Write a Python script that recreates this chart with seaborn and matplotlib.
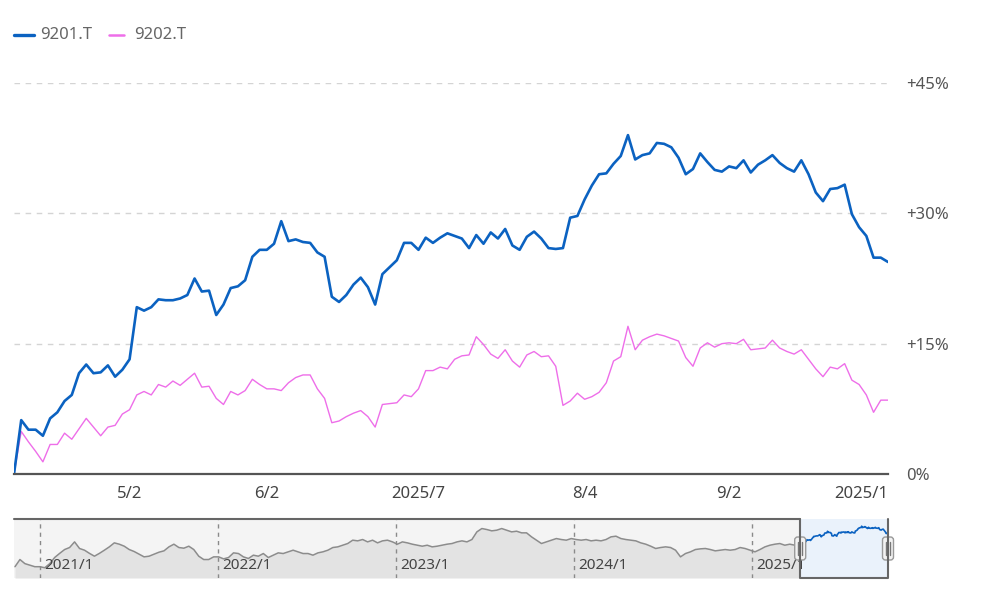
import matplotlib
matplotlib.use('Agg')
import matplotlib.pyplot as plt
from matplotlib.lines import Line2D
from matplotlib.patches import Rectangle, FancyBboxPatch
from matplotlib.transforms import IdentityTransform
import seaborn as sns
import pandas as pd

# ---- data (percent change since 2025-04-09) ----
jp_holidays = ['2025-04-29', '2025-05-05', '2025-05-06', '2025-07-21',
               '2025-08-11', '2025-09-15', '2025-09-23']

jal = [0.0, 6.2, 5.1, 5.1, 4.4, 6.4, 7.1, 8.4, 9.1, 11.6, 12.6, 11.6, 11.7, 12.5, 11.2, 12.0,
       13.2, 19.2, 18.8, 19.2, 20.1, 20.0, 20.0, 20.2, 20.6, 22.5, 21.0, 21.1, 18.3, 19.5, 21.4,
       21.6, 22.3, 25.0, 25.8, 25.8, 26.5, 29.1, 26.8, 27.0, 26.7, 26.6, 25.5, 25.0, 20.4, 19.8,
       20.6, 21.8, 22.6, 21.5, 19.5, 23.0, 23.8, 24.6, 26.6, 26.6, 25.8, 27.2, 26.6, 27.2, 27.7,
       27.4, 27.1, 26.0, 27.5, 26.5, 27.8, 27.1, 28.2, 26.3, 25.8, 27.3, 27.9, 27.1, 26.0, 25.9,
       26.0, 29.5, 29.7, 31.6, 33.2, 34.5, 34.6, 35.7, 36.6, 39.0, 36.2, 36.7, 36.9, 38.1, 38.0,
       37.6, 36.4, 34.5, 35.1, 36.9, 35.9, 35.0, 34.8, 35.4, 35.2, 36.1, 34.7, 35.6, 36.1, 36.7,
       35.8, 35.2, 34.8, 36.1, 34.5, 32.4, 31.4, 32.8, 32.9, 33.3, 29.9, 28.4, 27.4, 24.9, 24.9,
       24.4]

ana = [0.0, 4.9, 3.7, 2.6, 1.4, 3.4, 3.4, 4.7, 4.0, 5.2, 6.4, 5.4, 4.4, 5.4, 5.6, 6.9,
       7.4, 9.1, 9.5, 9.1, 10.3, 10.0, 10.7, 10.2, 10.9, 11.6, 10.0, 10.1, 8.7, 8.0, 9.5,
       9.1, 9.6, 10.9, 10.3, 9.8, 9.8, 9.6, 10.5, 11.1, 11.4, 11.4, 9.8, 8.7, 5.9, 6.1,
       6.6, 7.0, 7.3, 6.6, 5.4, 8.0, 8.1, 8.2, 9.1, 8.9, 9.8, 11.9, 11.9, 12.3, 12.1,
       13.2, 13.6, 13.7, 15.8, 14.9, 13.8, 13.3, 14.3, 13.0, 12.3, 13.7, 14.1, 13.5, 13.6, 12.4,
       7.9, 8.4, 9.3, 8.6, 8.9, 9.4, 10.5, 13.0, 13.5, 17.0, 14.3, 15.4, 15.8, 16.1, 15.9,
       15.6, 15.3, 13.4, 12.4, 14.5, 15.1, 14.6, 15.0, 15.1, 15.0, 15.5, 14.3, 14.4, 14.5, 15.4,
       14.5, 14.1, 13.8, 14.3, 13.2, 12.1, 11.2, 12.3, 12.1, 12.7, 10.8, 10.3, 9.1, 7.1, 8.5,
       8.5]

x_tick_dates = ['2025-05-02', '2025-06-02', '2025-07-01', '2025-08-04', '2025-09-02', '2025-10-01']
x_tick_labels = ['5/2', '6/2', '2025/7', '8/4', '9/2', '2025/10']
y_ticks = [0, 15, 30, 45]
y_tick_labels = ['0%', '+15%', '+30%', '+45%']

# navigator history of 9201.T, same percent scale
hist_pct = [-40, -26, -34, -37, -40, -40, -42, -34, -22, -14, -6.5, -2.6, 8.4, -4.5, -7.8,
            -14, -19.5, -14, -7.8, -1.3, 6.5, 3.9, 0, -6.5, -10.4, -15.6, -20.8, -19.5, -15.6,
            -11.7, -9.1, -1.3, 3.9, -2.6, -3.9, 0, -6.5, -19.5, -26, -26, -20.8, -20.8, -24.7,
            -22.1, -13, -14.3, -20.8, -24, -17.5, -19.5, -14.3, -22.1, -17.5, -13, -14.3, -11,
            -7.8, -11, -14.3, -14.3, -17.5, -13, -11, -7.8, -2.6, -1.3, 1.9, 5.2, 11.7, 10.4,
            13, 8.4, 11.7, 6.5, 10.4, 11.7, 8.4, 3.9, 8.4, 6.5, 3.9, 1.9, 0, 1.9, -1.3, 0, 1.9,
            3.9, 5.2, 8.4, 10.4, 8.4, 13, 27.9, 34.4, 32.5, 29.9, 31.2,
            34.4, 31.2, 27.9, 29.2, 26, 26, 18.2, 11.7, 5.2, 8.4, 11.7, 14.9, 13, 11.7, 14.9, 13,
            11.7, 13, 10.4, 11.7, 10.4, 13, 18.2, 19.5, 14.9, 13, 11.7, 10.4, 6.5, 3.9, 0, -4.5,
            -2.6, -1.3, -2.6, -7.8, -20.8, -14.3, -11, -6.5, -5.2, -4.5, -6.5, -9.1, -7.8, -6.5,
            -7.8, -6.5, -2.6, -4.5, -7.8, -11, -6.5, -1.3, 1.9, 3.9, 5.2, 1.9, 3.9, 1.9, 0]
hist_start, hist_end = '2020-11-11', '2025-04-08'
nav_years = ['2021-01-01', '2022-01-01', '2023-01-01', '2024-01-01', '2025-01-01']
nav_year_labels = ['2021/1', '2022/1', '2023/1', '2024/1', '2025/1']

JAL_COLOR = '#0b62c1'
ANA_COLOR = '#ee6ee9'

sns.set_style('white')
plt.rcParams['font.family'] = ['Noto Sans', 'DejaVu Sans']

W, H = 990, 596
fig = plt.figure(figsize=(W / 100, H / 100), dpi=100)
px = IdentityTransform()


def box(l, t, r, b):
    return [l / W, 1 - b / H, (r - l) / W, (b - t) / H]


trade_days = pd.bdate_range('2025-04-09', periods=len(jal), freq='C', holidays=jp_holidays)
main = pd.DataFrame({'pos': range(len(jal)), 'date': trade_days, '9201.T': jal, '9202.T': ana})

# ---- main chart ----
ax = fig.add_axes(box(14, 83, 888, 474))
sns.lineplot(data=main, x='pos', y='9202.T', ax=ax, color=ANA_COLOR, lw=1.0)
sns.lineplot(data=main, x='pos', y='9201.T', ax=ax, color=JAL_COLOR, lw=1.9)
ax.set_xlim(0, len(jal) - 1)
ax.set_ylim(0, 45)
ax.set_xlabel('')
ax.set_ylabel('')

pos_of = {d: i for i, d in enumerate(trade_days)}
ax.set_xticks([pos_of[pd.Timestamp(d)] for d in x_tick_dates], x_tick_labels)
ax.yaxis.tick_right()
ax.set_yticks(y_ticks, y_tick_labels)
ax.tick_params(axis='y', length=0, pad=13, labelsize=12, labelcolor='#555555')
ax.tick_params(axis='x', length=0, pad=9, labelsize=12, labelcolor='#444444')
ax.set_axisbelow(True)
ax.grid(axis='y', color='#d4d4d4', ls=(0, (4, 4)), lw=1)
ax.grid(axis='x', visible=False)
for s in ['top', 'left', 'right']:
    ax.spines[s].set_visible(False)
ax.spines['bottom'].set_color('#555555')
ax.spines['bottom'].set_linewidth(1.6)

# last label is cut at the plot edge
clip = Rectangle((0, 0), 888, H, transform=px)
ax.get_xticklabels()[-1].set_clip_path(clip)

# ---- navigator ----
nav = fig.add_axes(box(14, 519, 888, 578))
nav.set_facecolor('#f4f4f4')
hist = pd.DataFrame({'date': pd.date_range(hist_start, hist_end, periods=len(hist_pct)),
                     'pct': hist_pct})
nav.fill_between(hist['date'], hist['pct'], -62, color='#e3e3e3', lw=0)
sns.lineplot(data=hist, x='date', y='pct', ax=nav, color='#8c8c8c', lw=1.1)
nav.axvspan(trade_days[0], trade_days[-1], color='#eaf2fb', lw=0)
sns.lineplot(data=main, x='date', y='9201.T', ax=nav, color=JAL_COLOR, lw=1.2)
nav.set_xlim(pd.Timestamp('2020-11-09'), trade_days[-1])
nav.set_ylim(-62, 53)
nav.set_xticks([])
nav.set_yticks([])
nav.set_xlabel('')
nav.set_ylabel('')
for s in nav.spines.values():
    s.set_visible(False)

for d, lab in zip(nav_years, nav_year_labels):
    d = pd.Timestamp(d)
    nav.axvline(d, color='#8a8a8a', ls=(0, (3, 3)), lw=1)
    nav.text(d + pd.Timedelta(days=8), -38, lab, fontsize=11, color='#444444', va='center')

fig.canvas.draw()
x0 = nav.transData.transform((nav.convert_xunits(trade_days[0]), 0))[0]
x1 = nav.transData.transform((nav.convert_xunits(trade_days[-1]), 0))[0]
yt, yb = H - 519, H - 578
line_kw = dict(color='#666666', lw=1.5, transform=px)
fig.add_artist(Line2D([14, x0], [yt, yt], **line_kw))
fig.add_artist(Line2D([x0, x0, x1, x1], [yt, yb, yb, yt], **line_kw))
for xh in (x0, x1):
    fig.add_artist(FancyBboxPatch((xh - 5.5, H - 560), 11, 23,
                                  boxstyle='round,pad=0,rounding_size=3',
                                  fc='#f2f2f2', ec='#999999', lw=1, transform=px))
    for dx in (-1.8, 1.8):
        fig.add_artist(Line2D([xh + dx, xh + dx], [H - 555, H - 542],
                              color='#777777', lw=1, transform=px))

# ---- legend ----
fig.add_artist(Line2D([14, 34], [H - 35, H - 35], color=JAL_COLOR, lw=2.4, transform=px))
fig.text(40, H - 35, '9201.T', transform=px, fontsize=12, color='#666666', va='center')
fig.add_artist(Line2D([109, 124], [H - 35, H - 35], color=ANA_COLOR, lw=1.8, transform=px))
fig.text(134, H - 35, '9202.T', transform=px, fontsize=12, color='#666666', va='center')

fig.savefig('out.png', dpi=100)
